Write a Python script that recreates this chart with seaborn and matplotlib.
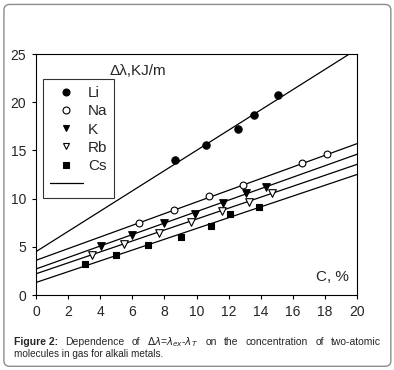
import matplotlib
matplotlib.use("Agg")
import matplotlib.pyplot as plt
from matplotlib.lines import Line2D
from matplotlib.patches import FancyBboxPatch
import pandas as pd
import seaborn as sns

# points
li_x = [8.66, 10.57, 12.6, 13.6, 15.1]
li_y = [14.0, 15.6, 17.2, 18.7, 20.8]
na_x = [6.4, 8.6, 10.8, 12.9, 16.6, 18.15]
na_y = [7.44, 8.85, 10.24, 11.4, 13.7, 14.6]
k_x = [4.07, 6.0, 8.0, 9.9, 11.65, 13.1, 14.3]
k_y = [5.05, 6.2, 7.44, 8.37, 9.5, 10.6, 11.2]
rb_x = [3.47, 5.48, 7.64, 9.66, 11.6, 13.3, 14.7]
rb_y = [4.1, 5.26, 6.4, 7.6, 8.7, 9.65, 10.55]
cs_x = [3.05, 4.97, 6.98, 9.03, 10.9, 12.07, 13.9]
cs_y = [3.25, 4.18, 5.2, 6.05, 7.2, 8.4, 9.16]

# fitted lines: value at C=0 and at C=20
metals = ['Li', 'Na', 'K', 'Rb', 'Cs']
line_x = [0, 20]
line_y0 = [4.5, 3.6, 2.7, 2.2, 1.3]
line_y20 = [25.5, 15.7, 14.6, 13.55, 12.5]

pts = pd.concat([
    pd.DataFrame({'C': x, 'dl': y, 'metal': m})
    for m, x, y in zip(metals, [li_x, na_x, k_x, rb_x, cs_x],
                       [li_y, na_y, k_y, rb_y, cs_y])
])
lines = pd.concat([
    pd.DataFrame({'C': line_x, 'dl': [a, b], 'metal': m})
    for m, a, b in zip(metals, line_y0, line_y20)
])

sns.set_style('ticks')
plt.rcParams['font.family'] = ['Liberation Sans Narrow', 'Liberation Sans', 'DejaVu Sans']

fig = plt.figure(figsize=(3.94, 3.70), dpi=100)
ax = fig.add_axes([0.0914, 0.2027, 0.8147, 0.6513])

sns.lineplot(data=lines, x='C', y='dl', units='metal', estimator=None,
             color='black', lw=0.9, ax=ax)

markers = {'Li': 'o', 'Na': 'o', 'K': 'v', 'Rb': 'v', 'Cs': 's'}
faces = {'Li': 'black', 'Na': 'white', 'K': 'black', 'Rb': 'white', 'Cs': 'black'}
sizes = {'Li': 28, 'Na': 24, 'K': 30, 'Rb': 30, 'Cs': 24}
for m in metals:
    sns.scatterplot(data=pts[pts.metal == m], x='C', y='dl', marker=markers[m],
                    color=faces[m], edgecolor='black', linewidth=0.8,
                    s=sizes[m], ax=ax, zorder=3)

ax.set_xlim(0, 20)
ax.set_ylim(0, 25)
ax.set_xticks(range(0, 21, 2))
ax.set_yticks(range(0, 26, 5))
ax.set_xlabel('')
ax.set_ylabel('')
ax.tick_params(labelsize=10, length=3, width=0.8, color='black', pad=4)
for s in ax.spines.values():
    s.set_visible(True)
    s.set_color('black')
    s.set_linewidth(0.8)

ax.text(4.6, 23.2, 'Δλ,KJ/m', fontsize=11, va='center', ha='left')
ax.text(19.5, 1.9, 'C, %', fontsize=11, va='center', ha='right')

handles = [Line2D([], [], ls='none', marker=markers[m], mfc=faces[m], mec='black',
                  mew=0.8, ms=5) for m in metals]
handles.append(Line2D([], [], color='black', lw=0.9))
leg = ax.legend(handles, metals + [''], loc='upper left',
                bbox_to_anchor=(0.021, 0.896), borderaxespad=0, fontsize=11,
                frameon=True, fancybox=False, edgecolor='black',
                handlelength=2.2, handletextpad=0.3, labelspacing=0.28,
                borderpad=0.45)
leg.get_frame().set_linewidth(0.8)

# figure border
fig.patches.append(FancyBboxPatch((0.01, 0.01), 0.982, 0.978,
                                  boxstyle='round,pad=0,rounding_size=0.015',
                                  transform=fig.transFigure, fc='none',
                                  ec='#8c8c8c', lw=1.0))

# caption, first line justified
words = ['Figure 2:', 'Dependence', 'of', r'$\Delta\lambda$=$\lambda_{ex}$-$\lambda_{T}$',
         'on', 'the', 'concentration', 'of', 'two-atomic']
y1 = 1 - 341.7 / 370
x0, x1 = 14 / 394, 381 / 394
fig.canvas.draw()
r = fig.canvas.get_renderer()
objs = []
for w in words:
    weight = 'bold' if w == 'Figure 2:' else 'normal'
    objs.append(fig.text(0, y1, w, fontsize=7.5, fontweight=weight, va='center'))
widths = [o.get_window_extent(r).width / fig.bbox.width for o in objs]
gap = (x1 - x0 - sum(widths)) / (len(words) - 1)
x = x0
for o, wd in zip(objs, widths):
    o.set_x(x)
    x += wd + gap
fig.text(x0, 1 - 354 / 370, 'molecules in gas for alkali metals.', fontsize=7.2,
         va='center')

fig.savefig('out.png', dpi=100)
